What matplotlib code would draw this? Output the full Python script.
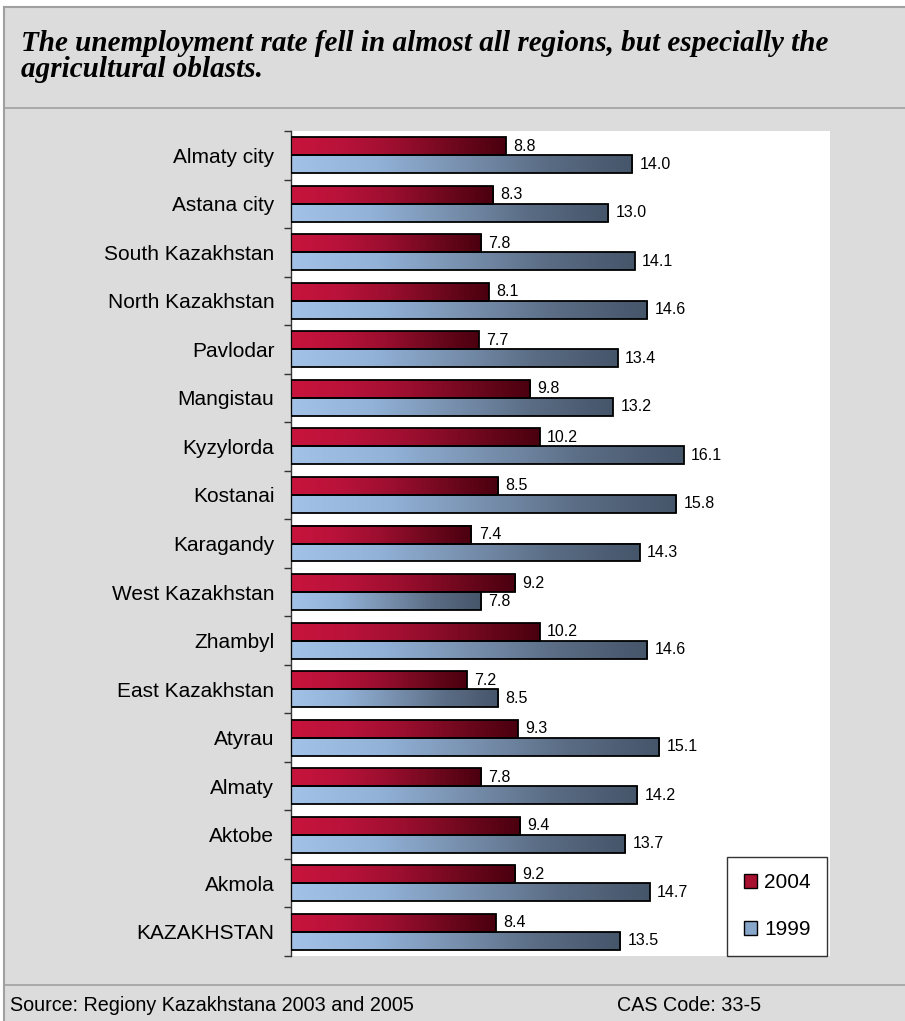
import numpy as np
import matplotlib
matplotlib.use('Agg')
import matplotlib.pyplot as plt
from matplotlib.colors import LinearSegmentedColormap
from matplotlib.patches import Rectangle
from matplotlib.lines import Line2D

plt.rcParams['font.family'] = ['Liberation Sans', 'DejaVu Sans']

regions = ['Almaty city', 'Astana city', 'South Kazakhstan', 'North Kazakhstan',
           'Pavlodar', 'Mangistau', 'Kyzylorda', 'Kostanai', 'Karagandy',
           'West Kazakhstan', 'Zhambyl', 'East Kazakhstan', 'Atyrau', 'Almaty',
           'Aktobe', 'Akmola', 'KAZAKHSTAN']
rate_2004 = [8.8, 8.3, 7.8, 8.1, 7.7, 9.8, 10.2, 8.5, 7.4, 9.2, 10.2, 7.2, 9.3,
             7.8, 9.4, 9.2, 8.4]
rate_1999 = [14.0, 13.0, 14.1, 14.6, 13.4, 13.2, 16.1, 15.8, 14.3, 7.8, 14.6,
             8.5, 15.1, 14.2, 13.7, 14.7, 13.5]
years = ['2004', '1999']

W, H = 905, 1021
fig = plt.figure(figsize=(W / 100, H / 100), dpi=100)
fig.patch.set_facecolor('white')

def fx(px):
    return px / W

def fy(py):
    return 1 - py / H

# grey panel with frame lines
fig.add_artist(Rectangle((fx(4), 0), 1, fy(7), transform=fig.transFigure,
                         facecolor='#DCDCDC', edgecolor='none', zorder=0))
frame = '#A0A0A0'
fig.add_artist(Line2D([fx(4), 1], [fy(7), fy(7)], color=frame, lw=1.5))
fig.add_artist(Line2D([fx(4), fx(4)], [0, fy(7)], color=frame, lw=1.5))
fig.add_artist(Line2D([fx(4), 1], [fy(108), fy(108)], color=frame, lw=1.2))
fig.add_artist(Line2D([fx(4), 1], [fy(985), fy(985)], color=frame, lw=1.2))

title_font = dict(ha='left', va='baseline', fontsize=21, fontweight='bold',
                  fontstyle='italic', family=['Liberation Serif', 'DejaVu Serif'])
fig.text(fx(21), fy(51), 'The unemployment rate fell in almost all regions, but especially the',
         **title_font)
fig.text(fx(21), fy(77), 'agricultural oblasts.', **title_font)
fig.text(fx(10), fy(1005), 'Source: Regiony Kazakhstana 2003 and 2005',
         ha='left', va='center', fontsize=14.2)
fig.text(fx(617), fy(1005), 'CAS Code: 33-5', ha='left', va='center', fontsize=14.2)

ax = fig.add_axes([fx(291), fy(956), fx(830) - fx(291), fy(131) - fy(956)])
ax.set_facecolor('white')

red_cmap = LinearSegmentedColormap.from_list(
    'red', ['#C8143C', '#B8123A', '#9A0E2E', '#70081E', '#4A000F'])
blue_cmap = LinearSegmentedColormap.from_list(
    'blue', ['#A2C2E8', '#92B2D8', '#7890AE', '#5A6C84', '#45556A'])
grad = np.linspace(0, 1, 256).reshape(1, -1)

n = len(regions)
pos = np.arange(n)
bh = 0.37

def gradient_bar(y0, y1, val, cmap):
    ax.imshow(grad, cmap=cmap, aspect='auto', extent=(0, val, y1, y0),
              interpolation='bicubic', zorder=2)
    ax.add_patch(Rectangle((0, y0), val, y1 - y0, facecolor='none',
                           edgecolor='black', lw=1.3, zorder=3))

for i in range(n):
    c = pos[i]
    gradient_bar(c - bh, c, rate_2004[i], red_cmap)
    gradient_bar(c, c + bh, rate_1999[i], blue_cmap)
    ax.text(rate_2004[i] + 0.3, c - bh / 2, f'{rate_2004[i]:.1f}',
            ha='left', va='center', fontsize=11.5, zorder=4)
    ax.text(rate_1999[i] + 0.3, c + bh / 2, f'{rate_1999[i]:.1f}',
            ha='left', va='center', fontsize=11.5, zorder=4)

ax.set_xlim(0, 22.1)
ax.set_ylim(n - 0.5, -0.5)
ax.set_xticks([])
ax.set_yticks(pos)
ax.set_yticklabels(regions, fontsize=15)
ax.set_yticks(np.arange(n + 1) - 0.5, minor=True)
ax.tick_params(axis='y', which='major', length=0, pad=12)
ax.tick_params(axis='y', which='minor', length=5, width=1, color='#333333')
for s in ['top', 'right', 'bottom']:
    ax.spines[s].set_visible(False)
ax.spines['left'].set_color('#333333')
ax.spines['left'].set_linewidth(1)

handles = [Rectangle((0, 0), 1, 1, facecolor='#A8102F', edgecolor='black', lw=1),
           Rectangle((0, 0), 1, 1, facecolor='#88A6CA', edgecolor='black', lw=1)]
leg = ax.legend(handles, years, loc='lower left', bbox_to_anchor=(0.809, 0.0),
                fontsize=15, frameon=True, fancybox=False, edgecolor='black',
                handlelength=0.62, handleheight=0.62, handletextpad=0.35,
                labelspacing=1.35, borderpad=0.8, borderaxespad=0)
leg.get_frame().set_linewidth(1)

fig.savefig('out.png', dpi=100)
